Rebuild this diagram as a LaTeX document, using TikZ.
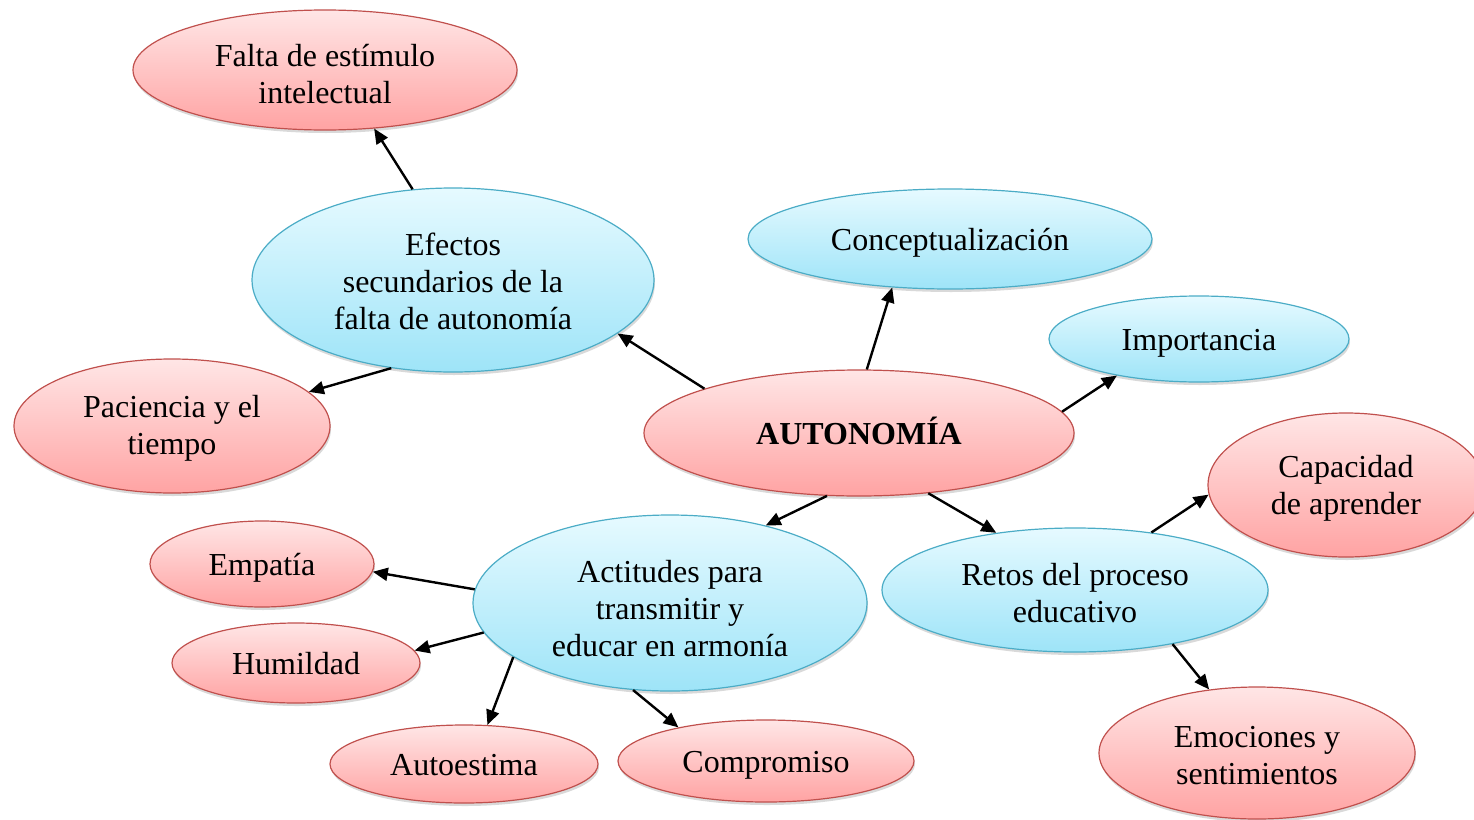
\documentclass[tikz,border=0pt]{standalone}
\usepackage{fontspec}
\setmainfont{Liberation Serif}
\usetikzlibrary{shapes.geometric,arrows.meta,shadows}
\definecolor{pinkline}{RGB}{192,80,77}
\definecolor{pinktop}{RGB}{255,230,230}
\definecolor{pinkbot}{RGB}{255,163,163}
\definecolor{blueline}{RGB}{75,172,198}
\definecolor{bluetop}{RGB}{230,250,255}
\definecolor{bluebot}{RGB}{158,228,248}
\newcommand\nodestrut{\rule[-6pt]{0pt}{35pt}}
% multi-line text block, moved down by #1 without changing its total size
\newcommand\mltext[2]{\raisebox{0pt}[\dimexpr\height+#1\relax][\dimexpr\depth-#1\relax]{\begin{tabular}{@{}c@{}}#2\end{tabular}}}
\tikzset{
  bubble/.style={ellipse, inner sep=0pt, align=center, line width=1.2pt,
    font=\fontsize{32}{37}\selectfont,
    execute at begin node=\nodestrut, execute at end node=\nodestrut,
    drop shadow={shadow xshift=1pt, shadow yshift=-3pt, opacity=0.25, fill=black!60}},
  pinknode/.style={bubble, draw=pinkline, top color=pinktop, bottom color=pinkbot},
  bluenode/.style={bubble, draw=blueline, top color=bluetop, bottom color=bluebot},
  link/.style={line width=2.4pt, -{Triangle[length=15pt,width=13pt]}},
}
\begin{document}
\begin{tikzpicture}[x=1pt,y=-1pt]
\useasboundingbox (0,0) rectangle (1474,819);
\begin{scope}
\clip (0,0) rectangle (1474,819);
\node[pinknode, minimum width=384pt, minimum height=120pt] (falta) at (325,70) {\mltext{7.5pt}{Falta de estímulo\\intelectual}};
\node[bluenode, minimum width=402pt, minimum height=184pt] (efectos) at (453,280) {\mltext{5pt}{Efectos\\secundarios de la\\falta de autonomía}};
\node[bluenode, minimum width=404pt, minimum height=100pt] (concep) at (950,239) {Conceptualización};
\node[bluenode, minimum width=300pt, minimum height=86pt] (impor) at (1199,339) {Importancia};
\node[pinknode, minimum width=316pt, minimum height=134pt] (pacien) at (172,426) {\mltext{3pt}{Paciencia y el\\tiempo}};
\node[pinknode, minimum width=430pt, minimum height=126pt, font=\fontsize{32}{37}\selectfont\bfseries] (auto) at (859,433) {AUTONOMÍA};
\node[pinknode, minimum width=276pt, minimum height=144pt] (capac) at (1346,485) {\mltext{3.5pt}{Capacidad\\de aprender}};
\node[pinknode, minimum width=224pt, minimum height=86pt] (empat) at (262,564) {Empatía};
\node[bluenode, minimum width=394pt, minimum height=176pt] (actit) at (670,603) {\mltext{9.5pt}{Actitudes para\\transmitir y\\educar en armonía}};
\node[bluenode, minimum width=386pt, minimum height=124pt] (retos) at (1075,590) {\mltext{6.5pt}{Retos del proceso\\educativo}};
\node[pinknode, minimum width=248pt, minimum height=80pt] (humil) at (296,663) {Humildad};
\node[pinknode, minimum width=268pt, minimum height=78pt] (autoes) at (464,764) {Autoestima};
\node[pinknode, minimum width=296pt, minimum height=82pt] (compro) at (766,761) {Compromiso};
\node[pinknode, minimum width=316pt, minimum height=132pt] (emoc) at (1257,753) {\mltext{6pt}{Emociones y\\sentimientos}};
\end{scope}
\draw[link] (efectos.114) -- (falta.-50);
\draw[link] (auto.164) -- (efectos.-18);
\draw[link] (efectos.-125) -- (pacien.14);
\draw[link] (auto.83.5) -- (concep.-140);
\draw[link] (auto.6.5) -- (impor.-156);
\draw[link] (auto.-117) -- (actit.39);
\draw[link] (auto.-41) -- (retos.144);
\draw[link] (retos.37) -- (capac.-176);
\draw[link] (retos.-29) -- (emoc.127);
\draw[link] (actit.176.8) -- (empat.-4);
\draw[link] (actit.-171.7) -- (humil.6);
\draw[link] (actit.-161) -- (autoes.59);
\draw[link] (actit.-113) -- (compro.159);
\end{tikzpicture}
\end{document}
